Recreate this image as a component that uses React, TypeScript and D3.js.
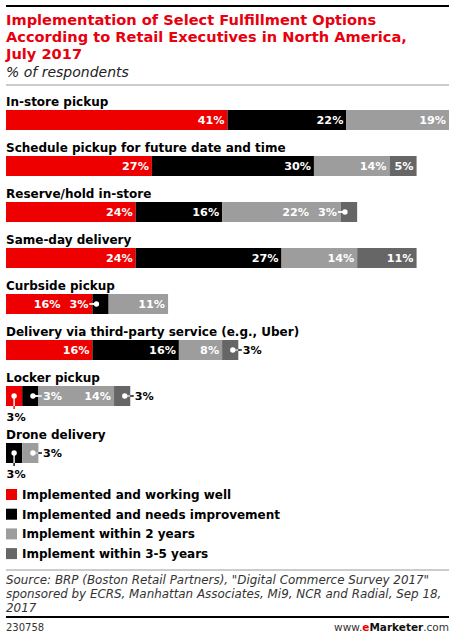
import React from "react";
import * as d3 from "d3";

const categories = [
  "In-store pickup",
  "Schedule pickup for future date and time",
  "Reserve/hold in-store",
  "Same-day delivery",
  "Curbside pickup",
  "Delivery via third-party service (e.g., Uber)",
  "Locker pickup",
  "Drone delivery",
];
const seriesNames = [
  "Implemented and working well",
  "Implemented and needs improvement",
  "Implement within 2 years",
  "Implement within 3-5 years",
];
const workingWell = [41, 27, 24, 24, 16, 16, 3, 0];
const needsImprovement = [22, 30, 16, 27, 3, 16, 3, 3];
const within2Years = [19, 14, 22, 14, 11, 8, 14, 3];
const within3to5Years = [0, 5, 3, 11, 0, 3, 3, 0];
const sourceLines = [
  "Source: BRP (Boston Retail Partners), \"Digital Commerce Survey 2017\"",
  "sponsored by ECRS, Manhattan Associates, Mi9, NCR and Radial, Sep 18,",
  "2017",
];

// small segments whose labels are pulled out with a dot and a line
const callouts: Record<string, "left" | "right" | "below"> = {
  "2-3": "left",
  "4-1": "left",
  "5-3": "right",
  "6-0": "below",
  "6-1": "right",
  "6-3": "right",
  "7-1": "below",
  "7-2": "right",
};

const colors = ["#ee0000", "#000000", "#9d9d9d", "#666666"];
const W = 455;
const H = 639;
const font = "'DejaVu Sans', Verdana, sans-serif";
const valueSize = 11.2;

export default function App() {
  const series = [workingWell, needsImprovement, within2Years, within3to5Years];
  const totals = categories.map((_, i) => d3.sum(series, s => s[i]));
  const x = d3.scaleLinear().domain([0, 82]).range([6, 449]);

  const barH = 20;
  const rowTops: number[] = [];
  let top = 110;
  categories.forEach((_, i) => {
    rowTops.push(top);
    const hasBelow = series.some((_, j) => callouts[`${i}-${j}`] === "below");
    top += 46 + (hasBelow ? 11 : 0);
  });

  const rows = categories.map((cat, i) => {
    let acc = 0;
    const y = rowTops[i];
    const cy = y + barH / 2;
    const segs = series.map((s, j) => {
      const v = s[i];
      const x0 = x(acc);
      acc += v;
      const x1 = x(acc);
      return { j, v, x0, x1 };
    }).filter(d => d.v > 0);
    const barEnd = x(totals[i]);
    return (
      <g key={cat}>
        <text x={6} y={y - 4} fontSize={12} fontWeight="bold" fill="#000">{cat}</text>
        {segs.map(d => (
          <rect key={d.j} x={d.x0} y={y} width={d.x1 - d.x0} height={barH} fill={colors[d.j]} />
        ))}
        {segs.map((d, k) => {
          const dir = callouts[`${i}-${d.j}`];
          const label = `${d.v}%`;
          if (!dir) {
            // make room when the next segment's label is pulled to the left
            const next = segs[k + 1];
            let end = d.x1 - 3;
            if (next && callouts[`${i}-${next.j}`] === "left") end = next.x0 + 4 - 8 - 17 - 11;
            return (
              <text key={"l" + d.j} x={end} y={cy + 4.2} textAnchor="end" fontSize={valueSize}
                fontWeight="bold" fill="#fff">{label}</text>
            );
          }
          if (dir === "below") {
            const cx = (d.x0 + d.x1) / 2;
            return (
              <g key={"l" + d.j}>
                <line x1={cx} x2={cx} y1={cy} y2={y + barH + 3} stroke="#fff" strokeWidth={1.4} />
                <line x1={cx} x2={cx} y1={y + barH} y2={y + barH + 3} stroke={colors[d.j]} strokeWidth={1.4} />
                <circle cx={cx} cy={cy} r={2.7} fill="#fff" />
                <text x={cx + 2} y={y + barH + 15} textAnchor="middle" fontSize={valueSize} fontWeight="bold" fill="#000">{label}</text>
              </g>
            );
          }
          const right = dir === "right";
          const cx = right ? d.x1 - 5.5 : d.x0 + 4;
          const lineEnd = right ? cx + 9 : cx - 7;
          const tx = right ? cx + 10 : cx - 8;
          const inside = !right || tx + 10 < barEnd;
          return (
            <g key={"l" + d.j}>
              <line x1={cx} x2={lineEnd} y1={cy} y2={cy} stroke={inside ? "#fff" : "#000"} strokeWidth={1.4} />
              <line x1={cx} x2={right ? Math.min(lineEnd, d.x1) : lineEnd} y1={cy} y2={cy} stroke="#fff" strokeWidth={1.4} />
              <circle cx={cx} cy={cy} r={2.7} fill="#fff" />
              <text x={tx} y={cy + 4.2} textAnchor={right ? "start" : "end"} fontSize={valueSize}
                fontWeight="bold" fill={inside ? "#fff" : "#000"}>{label}</text>
            </g>
          );
        })}
      </g>
    );
  });

  const legendTop = 489;
  return (
    <svg width={W} height={H} style={{ position: "absolute", left: 0, top: 0 }} fontFamily={font}>
      <rect width={W} height={H} fill="#fff" />
      <line x1={6} x2={449} y1={6} y2={6} stroke="#000" strokeWidth={2} />
      <g fontSize={14.6} fontWeight="bold" fill="#e8000f">
        <text x={6} y={25}>Implementation of Select Fulfillment Options</text>
        <text x={6} y={42}>According to Retail Executives in North America,</text>
        <text x={6} y={59}>July 2017</text>
      </g>
      <text x={6} y={77} fontSize={14} fontStyle="italic" fill="#222">% of respondents</text>
      <line x1={6} x2={449} y1={85} y2={85} stroke="#999" strokeWidth={1} />
      {rows}
      {seriesNames.map((name, j) => (
        <g key={name} transform={`translate(6,${legendTop + j * 19.7})`}>
          <rect width={11} height={11} fill={colors[j]} />
          <text x={16} y={10} fontSize={12} fontWeight="bold" fill="#000">{name}</text>
        </g>
      ))}
      <line x1={6} x2={449} y1={570} y2={570} stroke="#999" strokeWidth={1} />
      {sourceLines.map((t, k) => (
        <text key={k} x={6} y={584 + k * 14} fontSize={11.9} fontStyle="italic" fill="#333">{t}</text>
      ))}
      <line x1={6} x2={449} y1={617} y2={617} stroke="#000" strokeWidth={2} />
      <text x={6} y={631} fontSize={10} fill="#333">230758</text>
      <text x={449} y={631} textAnchor="end" fontSize={10.5} fill="#333">
        www.<tspan fill="#ee0000" fontWeight="bold">e</tspan>
        <tspan fontWeight="bold" fill="#111">Marketer</tspan>.com
      </text>
    </svg>
  );
}
